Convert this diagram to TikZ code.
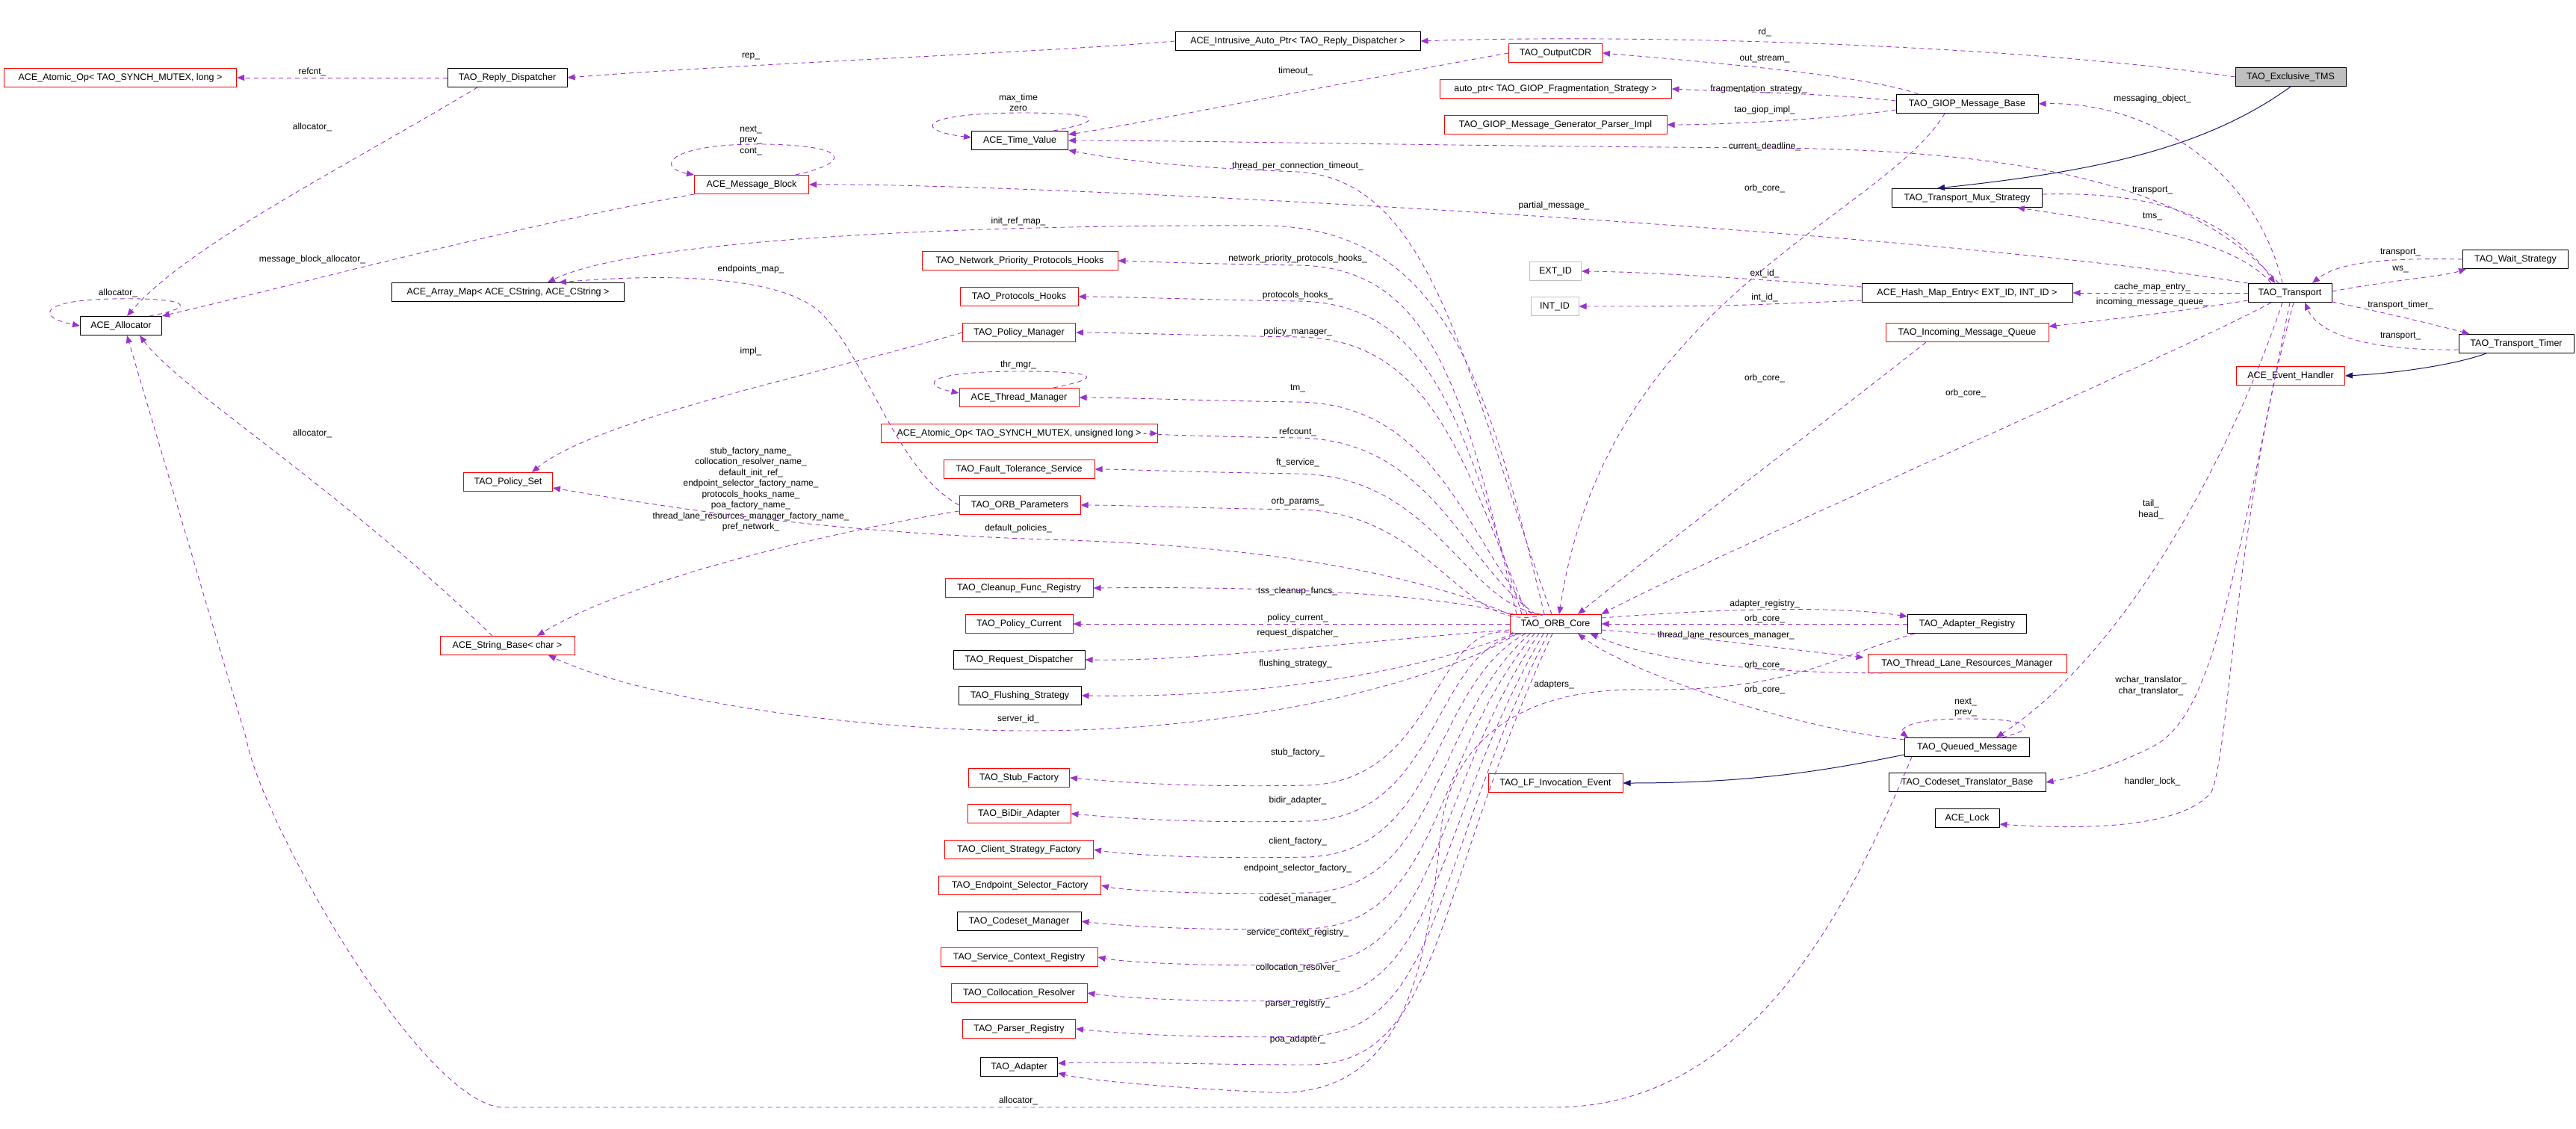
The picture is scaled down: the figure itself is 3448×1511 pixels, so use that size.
\documentclass[tikz,border=0pt]{standalone}
\usepackage{fontspec}
\setmainfont{Liberation Sans}
\usetikzlibrary{arrows.meta,calc}
\AtBeginDocument{\catcode`\_=12 }
\definecolor{rc}{HTML}{9A32CD}
\definecolor{ic}{HTML}{191970}
\newcommand\N[6]{\node[#5,minimum width=#4] (#1) at (#2,#3) {#6};}
\newcommand\Lb[4]{\node[lbl] (#1) at (#2,#3) {#4};}
\begin{document}
\begin{tikzpicture}[x=1pt,y=-1pt,
  nb/.style={draw=black,line width=1pt,minimum height=25,inner sep=0pt,font=\fontsize{12.5}{14}\selectfont},
  nr/.style={nb,draw=red},
  ng/.style={nb,draw=black!25},
  ngf/.style={nb,fill=black!25},
  lbl/.style={font=\fontsize{12}{14.5}\selectfont,align=center,inner sep=0pt},
  rel/.style={draw=rc,line width=0.9pt,dash pattern=on 6pt off 5pt,-{Triangle[length=10pt,width=8pt]},rc},
  inh/.style={draw=ic,line width=1pt,-{Triangle[length=10pt,width=8pt]}}]
\useasboundingbox (0,0) rectangle (3448,1511);
\fill[white] (0,0) rectangle (3448,1511);
% nodes
\N{iap}{1737}{55}{328}{nb}{ACE_Intrusive_Auto_Ptr< TAO_Reply_Dispatcher >}
\N{cdr}{2082}{71}{125}{nr}{TAO_OutputCDR}
\N{tms}{3066}{103}{148}{ngf}{TAO_Exclusive_TMS}
\N{rd}{679}{104}{160}{nb}{TAO_Reply_Dispatcher}
\N{aol}{161}{104}{311}{nr}{ACE_Atomic_Op< TAO_SYNCH_MUTEX, long >}
\N{frag}{2082}{119}{310}{nr}{auto_ptr< TAO_GIOP_Fragmentation_Strategy >}
\N{gmb}{2633}{139}{190}{nb}{TAO_GIOP_Message_Base}
\N{gpi}{2082}{167}{298}{nr}{TAO_GIOP_Message_Generator_Parser_Impl}
\N{tv}{1365}{188}{129}{nb}{ACE_Time_Value}
\N{mb}{1006}{247}{153}{nr}{ACE_Message_Block}
\N{mux}{2633}{265}{201}{nb}{TAO_Transport_Mux_Strategy}
\N{npph}{1365}{349}{262}{nr}{TAO_Network_Priority_Protocols_Hooks}
\N{wait}{3367}{347}{141}{nb}{TAO_Wait_Strategy}
\N{ext}{2082}{363}{69}{ng}{EXT_ID}
\N{amap}{680}{391}{311}{nb}{ACE_Array_Map< ACE_CString, ACE_CString >}
\N{hme}{2633}{392}{282}{nb}{ACE_Hash_Map_Entry< EXT_ID, INT_ID >}
\N{tr}{3065}{392}{112}{nb}{TAO_Transport}
\N{ph}{1364}{397}{158}{nr}{TAO_Protocols_Hooks}
\N{intid}{2081}{410}{64}{ng}{INT_ID}
\N{alloc}{162}{436}{109}{nb}{ACE_Allocator}
\N{pm}{1364}{445}{151}{nr}{TAO_Policy_Manager}
\N{imq}{2633}{445}{218}{nr}{TAO_Incoming_Message_Queue}
\N{timer}{3368}{460}{154}{nb}{TAO_Transport_Timer}
\N{eh}{3066}{503}{145}{nr}{ACE_Event_Handler}
\N{thm}{1364}{532}{160}{nr}{ACE_Thread_Manager}
\N{aoul}{1364}{580}{370}{nr}{ACE_Atomic_Op< TAO_SYNCH_MUTEX, unsigned long >}
\N{ft}{1364}{628}{202}{nr}{TAO_Fault_Tolerance_Service}
\N{pset}{680}{645}{119}{nr}{TAO_Policy_Set}
\N{op}{1365}{676}{162}{nr}{TAO_ORB_Parameters}
\N{cfr}{1364}{787}{198}{nr}{TAO_Cleanup_Func_Registry}
\N{oc}{2082}{835}{122}{nr}{TAO_ORB_Core}
\N{pc}{1364}{835}{144}{nr}{TAO_Policy_Current}
\N{ar}{2633}{835}{159}{nb}{TAO_Adapter_Registry}
\N{rdisp}{1364}{883}{176}{nb}{TAO_Request_Dispatcher}
\N{sb}{679}{864}{180}{nr}{ACE_String_Base< char >}
\N{tlrm}{2633}{888}{266}{nr}{TAO_Thread_Lane_Resources_Manager}
\N{fs}{1365}{931}{164}{nb}{TAO_Flushing_Strategy}
\N{qm}{2633}{1000}{167}{nb}{TAO_Queued_Message}
\N{sf}{1364}{1041}{135}{nr}{TAO_Stub_Factory}
\N{ctb}{2633}{1047}{210}{nb}{TAO_Codeset_Translator_Base}
\N{lf}{2082}{1048}{180}{nr}{TAO_LF_Invocation_Event}
\N{bidir}{1364}{1089}{138}{nr}{TAO_BiDir_Adapter}
\N{csf}{1364}{1137}{199}{nr}{TAO_Client_Strategy_Factory}
\N{esf}{1365}{1185}{217}{nr}{TAO_Endpoint_Selector_Factory}
\N{cm}{1364}{1233}{166}{nb}{TAO_Codeset_Manager}
\N{scr}{1364}{1281}{210}{nr}{TAO_Service_Context_Registry}
\N{cr}{1364}{1329}{182}{nr}{TAO_Collocation_Resolver}
\N{pr}{1364}{1377}{151}{nr}{TAO_Parser_Registry}
\N{ad}{1364}{1428}{103}{nb}{TAO_Adapter}
\N{lock}{2633}{1095}{86}{nb}{ACE_Lock}
% labels
\Lb{l1}{2362}{43}{rd_}
\Lb{l2}{1005}{76}{rep_}
\Lb{l3}{418}{96}{refcnt_}
\Lb{l4}{2362}{79}{out_stream_}
\Lb{l5}{1734}{95}{timeout_}
\Lb{l6}{2354}{119}{fragmentation_strategy_}
\Lb{l7}{1363}{137}{max_time\\zero}
\Lb{l8}{2362}{147}{tao_giop_impl_}
\Lb{l9}{2881}{132}{messaging_object_}
\Lb{l10}{418}{170}{allocator_}
\Lb{l11}{1005}{188}{next_\\prev_\\cont_}
\Lb{l12}{2362}{196}{current_deadline_}
\Lb{l13}{1737}{222}{thread_per_connection_timeout_}
\Lb{l14}{2362}{252}{orb_core_}
\Lb{l15}{2881}{255}{transport_}
\Lb{l16}{2080}{275}{partial_message_}
\Lb{l17}{2881}{290}{tms_}
\Lb{l18}{1363}{296}{init_ref_map_}
\Lb{l19}{3213}{338}{transport_}
\Lb{l20}{1737}{346}{network_priority_protocols_hooks_}
\Lb{l21}{418}{347}{message_block_allocator_}
\Lb{l22}{1005}{360}{endpoints_map_}
\Lb{l23}{3213}{360}{ws_}
\Lb{l24}{2362}{366}{ext_id_}
\Lb{l25}{2881}{384}{cache_map_entry_}
\Lb{l26}{158}{392}{allocator_}
\Lb{l27}{1737}{395}{protocols_hooks_}
\Lb{l28}{2362}{398}{int_id_}
\Lb{l29}{2881}{404}{incoming_message_queue_}
\Lb{l30}{3213}{408}{transport_timer_}
\Lb{l31}{1737}{444}{policy_manager_}
\Lb{l32}{3213}{450}{transport_}
\Lb{l33}{1005}{470}{impl_}
\Lb{l34}{1363}{488}{thr_mgr_}
\Lb{l35}{2362}{506}{orb_core_}
\Lb{l36}{1737}{520}{tm_}
\Lb{l37}{2631}{526}{orb_core_}
\Lb{l38}{418}{580}{allocator_}
\Lb{l39}{1737}{578}{refcount_}
\Lb{l40}{1737}{619}{ft_service_}
\Lb{l41}{1005}{655}{stub_factory_name_\\collocation_resolver_name_\\default_init_ref_\\endpoint_selector_factory_name_\\protocols_hooks_name_\\poa_factory_name_\\thread_lane_resources_manager_factory_name_\\pref_network_}
\Lb{l42}{1737}{671}{orb_params_}
\Lb{l43}{2879}{682}{tail_\\head_}
\Lb{l44}{1363}{707}{default_policies_}
\Lb{l45}{1737}{791}{tss_cleanup_funcs_}
\Lb{l46}{2362}{808}{adapter_registry_}
\Lb{l47}{1737}{827}{policy_current_}
\Lb{l48}{2362}{828}{orb_core_}
\Lb{l49}{1737}{847}{request_dispatcher_}
\Lb{l50}{2310}{850}{thread_lane_resources_manager_}
\Lb{l51}{1734}{888}{flushing_strategy_}
\Lb{l52}{2362}{890}{orb_core_}
\Lb{l53}{2879}{918}{wchar_translator_\\char_translator_}
\Lb{l54}{2080}{916}{adapters_}
\Lb{l55}{2362}{923}{orb_core_}
\Lb{l56}{2631}{947}{next_\\prev_}
\Lb{l57}{1363}{962}{server_id_}
\Lb{l58}{1737}{1007}{stub_factory_}
\Lb{l59}{2881}{1046}{handler_lock_}
\Lb{l60}{1737}{1071}{bidir_adapter_}
\Lb{l61}{1737}{1126}{client_factory_}
\Lb{l62}{1737}{1162}{endpoint_selector_factory_}
\Lb{l63}{1737}{1203}{codeset_manager_}
\Lb{l64}{1737}{1248}{service_context_registry_}
\Lb{l65}{1737}{1295}{collocation_resolver_}
\Lb{l66}{1737}{1343}{parser_registry_}
\Lb{l67}{1737}{1391}{poa_adapter_}
\Lb{l68}{1363}{1473}{allocator_}
% edges
\draw[rel] (tms.west) .. controls (2700,60) and (2200,45) .. (iap.east);
\draw[rel] (iap.west) .. controls (1400,70) and (1000,85) .. (rd.east);
\draw[rel] (rd.west) -- (aol.east);
\draw[rel] ($(rd.south)+(-40,0)$) .. controls (450,230) and (250,330) .. ($(alloc.north)+(8,0)$);
\draw[rel] (mb.south west) .. controls (700,300) and (400,380) .. (alloc.north east);
\draw[rel] (1065,234) .. controls (1150,215) and (1130,192) .. (1005,193) .. controls (890,195) and (880,225) .. (mb.north west);
\draw[rel] (200,423) .. controls (270,410) and (250,398) .. (150,400) .. controls (50,402) and (50,425) .. (alloc.west);
\draw[rel] ($(sb.north)+(-20,0)$) .. controls (450,650) and (240,520) .. ($(alloc.south)+(25,0)$);
\draw[rel] ($(qm.south west)+(10,0)$) .. controls (2480,1200) and (2350,1482) .. (2080,1482) -- (670,1482) .. controls (560,1470) and (350,1100) .. (330,990) -- ($(alloc.south)+(8,0)$);
\draw[rel] (tr.north west) .. controls (2600,310) and (1400,245) .. (mb.east);
\draw[rel] ($(oc.north)+(-15,0)$) .. controls (1990,500) and (1930,310) .. (1700,302) .. controls (1300,300) and (850,320) .. ($(amap.north)+(53,0)$);
\draw[rel] (op.west) .. controls (1200,630) and (1160,480) .. (1100,420) .. controls (1050,370) and (900,365) .. ($(amap.north)+(68,0)$);
\draw[rel] (pm.west) .. controls (1100,500) and (800,560) .. ($(pset.north)+(32,0)$);
\draw[rel] (oc.north west) .. controls (1900,770) and (1700,730) .. (1400,722) .. controls (1100,712) and (900,680) .. ($(pset.east)+(0,8)$);
\draw[rel] ($(op.west)+(0,8)$) .. controls (1150,705) and (850,770) .. ($(sb.north)+(40,0)$);
\draw[rel] ($(oc.south west)+(10,0)$) .. controls (1950,900) and (1700,980) .. (1363,978) .. controls (1100,975) and (850,930) .. ($(sb.south)+(55,0)$);
\draw[rel] ($(oc.north)+(-5,0)$) .. controls (1960,500) and (1920,240) .. (1737,230) .. controls (1600,225) and (1500,215) .. (tv.south east);
\draw[rel] ($(gmb.north west)+(30,0)$) .. controls (2500,100) and (2250,80) .. (cdr.east);
\draw[rel] ($(gmb.west)+(0,-4)$) .. controls (2450,125) and (2300,122) .. (frag.east);
\draw[rel] ($(gmb.west)+(0,8)$) .. controls (2450,160) and (2300,167) .. (gpi.east);
\draw[rel] (cdr.west) .. controls (1800,110) and (1500,170) .. ($(tv.east)+(0,-8)$);
\draw[rel] (1410,175) .. controls (1480,162) and (1480,151) .. (1365,151) .. controls (1225,152) and (1225,175) .. ($(tv.west)+(0,-4)$);
\draw[rel] ($(tr.north)+(-15,0)$) .. controls (2960,280) and (2800,200) .. (2362,198) .. controls (1900,195) and (1600,188) .. (tv.east);
\draw[rel] ($(tr.north)+(-10,0)$) .. controls (3020,230) and (2880,135) .. (gmb.east);
\draw[rel] ($(gmb.south)+(-30,0)$) .. controls (2520,290) and (2150,400) .. ($(oc.north)+(5,0)$);
\draw[inh] (tms.south) .. controls (2950,200) and (2800,230) .. ($(mux.north)+(-40,0)$);
\draw[rel] ($(mux.east)+(0,-5)$) .. controls (2900,255) and (2990,300) .. ($(tr.north)+(-20,0)$);
\draw[rel] ($(tr.north)+(-25,0)$) .. controls (2990,320) and (2850,300) .. ($(mux.south)+(67,0)$);
\draw[rel] (wait.west) .. controls (3200,345) and (3130,350) .. ($(tr.north)+(30,0)$);
\draw[rel] ($(tr.east)+(0,-2)$) .. controls (3200,375) and (3270,370) .. ($(wait.south west)+(5,0)$);
\draw[rel] (tr.west) -- (hme.east);
\draw[rel] ($(hme.west)+(0,-8)$) .. controls (2300,370) and (2200,364) .. (ext.east);
\draw[rel] ($(hme.west)+(0,10)$) .. controls (2300,410) .. (intid.east);
\draw[rel] ($(tr.west)+(0,10)$) .. controls (2900,420) and (2800,430) .. ($(imq.north east)+(0,5)$);
\draw[rel] ($(tr.east)+(0,12)$) .. controls (3200,420) and (3280,440) .. ($(timer.north west)+(15,0)$);
\draw[rel] ($(timer.west)+(0,8)$) .. controls (3150,470) and (3100,440) .. ($(tr.south)+(20,0)$);
\draw[inh] ($(timer.south)+(-40,0)$) .. controls (3280,490) and (3200,500) .. (eh.east);
\draw[rel] ($(tr.south)+(-25,0)$) .. controls (2900,480) and (2300,740) .. (oc.north east);
\draw[rel] ($(imq.south)+(-55,0)$) .. controls (2500,520) and (2200,750) .. ($(oc.north)+(30,0)$);
\draw[rel] ($(tr.south)+(-10,0)$) .. controls (2990,600) and (2850,870) .. ($(qm.north east)+(-45,0)$);
\draw[rel] (tr.south) .. controls (2985,800) and (2960,960) .. (2880,1000) .. controls (2830,1025) and (2780,1040) .. (ctb.east);
\draw[rel] ($(tr.south)+(5,0)$) .. controls (2990,700) and (2985,1000) .. (2960,1060) .. controls (2920,1110) and (2780,1110) .. ($(lock.east)+(0,8)$);
\draw[rel] ($(oc.east)+(0,-8)$) .. controls (2300,815) and (2450,810) .. ($(ar.west)+(0,-10)$);
\draw[rel] (ar.west) -- (oc.east);
\draw[rel] ($(oc.east)+(0,8)$) .. controls (2300,855) and (2400,870) .. ($(tlrm.north west)+(-5,5)$);
\draw[rel] ($(tlrm.south west)+(20,0)$) .. controls (2450,900) and (2250,900) .. ($(oc.south east)+(-15,0)$);
\draw[rel] ($(ar.south west)+(10,0)$) .. controls (2450,880) and (2400,925) .. (2200,923) .. controls (2050,920) and (1950,980) .. (1930,1100) .. controls (1910,1300) and (1880,1470) .. (1700,1462) .. controls (1550,1455) and (1450,1445) .. ($(ad.east)+(0,8)$);
\draw[rel] ($(qm.west)+(0,-10)$) .. controls (2400,975) and (2180,900) .. ($(oc.south)+(30,0)$);
\draw[rel] (2680,987) .. controls (2730,975) and (2720,962) .. (2633,962) .. controls (2540,962) and (2545,980) .. ($(qm.north west)+(5,0)$);
\draw[inh] ($(qm.south west)+(0,-3)$) .. controls (2450,1030) and (2350,1048) .. (lf.east);
\draw[rel] (1410,519) .. controls (1480,505) and (1470,497) .. (1364,497) .. controls (1240,497) and (1230,515) .. ($(thm.west)+(0,-6)$);
% fan from ORB core
\foreach \t/\y/\sx in {npph/349/2030,ph/397/2037,pm/445/2044,thm/532/2050,aoul/580/2056,ft/628/2062,op/676/2068}
  \draw[rel] (\sx,822) .. controls (1960,\y+180) and (1920,\y+8) .. (1737,\y+6) .. controls (1600,\y+4) and (1500,\y) .. (\t.east);
\draw[rel] ($(oc.north west)+(5,0)$) .. controls (1900,790) and (1650,785) .. (cfr.east);
\draw[rel] (oc.west) -- (pc.east);
\draw[rel] ($(oc.west)+(0,8)$) .. controls (1800,860) and (1600,885) .. (rdisp.east);
\draw[rel] ($(oc.south west)+(5,0)$) .. controls (1950,880) and (1750,935) .. (fs.east);
\foreach \t/\y/\sx in {sf/1041/2030,bidir/1089/2036,csf/1137/2042,esf/1185/2048,cm/1233/2054,scr/1281/2060,cr/1329/2066,pr/1377/2072}
  \draw[rel] (\sx,848) .. controls (1915,\y-220) and (1930,\y+4) .. (1750,\y+10) .. controls (1600,\y+13) and (1500,\y+6) .. (\t.east);
\draw[rel] (2078,848) .. controls (1915,1200) and (1930,1425) .. (1750,1425) .. controls (1600,1425) and (1500,1420) .. ($(ad.east)+(0,-5)$);
\end{tikzpicture}
\end{document}
